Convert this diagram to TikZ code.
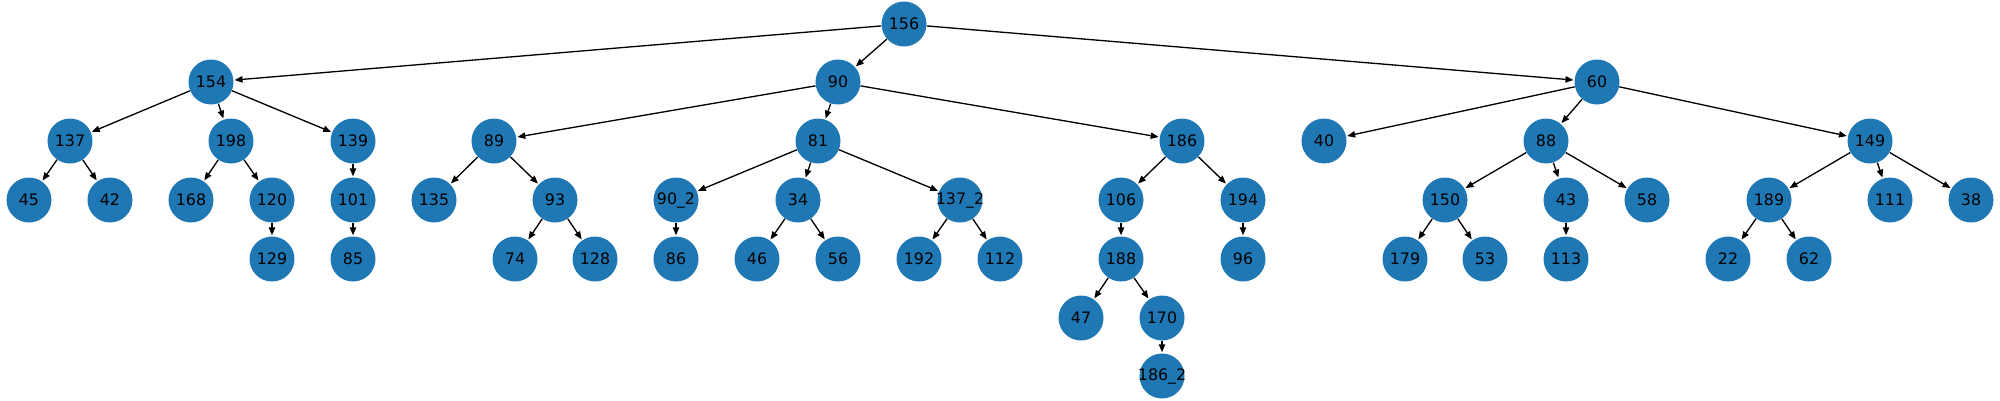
\documentclass[tikz,border=0pt]{standalone}
\usepackage{fontspec}
\setmainfont{DejaVu Sans}
\usetikzlibrary{arrows.meta}
\definecolor{nodeblue}{HTML}{1F77B4}
\tikzset{
	treenode/.style={circle, fill=nodeblue, minimum size=0.9cm, inner sep=0pt, font=\fontsize{9}{11}\selectfont},
	treeedge/.style={line width=0.75pt, -{Triangle[length=4.5pt, width=3.6pt]}, shorten >=0.5pt}
}

\begin{document}
\begin{tikzpicture}[x=0.02cm, y=-0.02cm]
		%%%%% START %%%%%
		\useasboundingbox (0, 0) rectangle (2000, 400);
		
		% level 0 and 1
		\node[treenode] (n156) at (904, 24) {156};
		\node[treenode] (n154) at (211, 82) {154};
		\node[treenode] (n90) at (838, 82) {90};
		\node[treenode] (n60) at (1597, 82) {60};
		
		% level 2
		\node[treenode] (n137) at (70, 141) {137};
		\node[treenode] (n198) at (231, 141) {198};
		\node[treenode] (n139) at (353, 141) {139};
		\node[treenode] (n89) at (494, 141) {89};
		\node[treenode] (n81) at (818, 141) {81};
		\node[treenode] (n186) at (1182, 141) {186};
		\node[treenode] (n40) at (1324, 141) {40};
		\node[treenode] (n88) at (1546, 141) {88};
		\node[treenode] (n149) at (1870, 141) {149};
		
		% level 3
		\node[treenode] (n45) at (29, 200) {45};
		\node[treenode] (n42) at (110, 200) {42};
		\node[treenode] (n168) at (191, 200) {168};
		\node[treenode] (n120) at (272, 200) {120};
		\node[treenode] (n101) at (353, 200) {101};
		\node[treenode] (n135) at (434, 200) {135};
		\node[treenode] (n93) at (555, 200) {93};
		\node[treenode] (n90b) at (676, 200) {\makebox[0pt]{90\_2}};
		\node[treenode] (n34) at (798, 200) {34};
		\node[treenode] (n137b) at (960, 200) {\makebox[0pt]{137\_2}};
		\node[treenode] (n106) at (1121, 200) {106};
		\node[treenode] (n194) at (1243, 200) {194};
		\node[treenode] (n150) at (1445, 200) {150};
		\node[treenode] (n43) at (1566, 200) {43};
		\node[treenode] (n58) at (1647, 200) {58};
		\node[treenode] (n189) at (1769, 200) {189};
		\node[treenode] (n111) at (1890, 200) {111};
		\node[treenode] (n38) at (1971, 200) {38};
		
		% level 4
		\node[treenode] (n129) at (272, 259) {129};
		\node[treenode] (n85) at (353, 259) {85};
		\node[treenode] (n74) at (515, 259) {74};
		\node[treenode] (n128) at (595, 259) {128};
		\node[treenode] (n86) at (676, 259) {86};
		\node[treenode] (n46) at (757, 259) {46};
		\node[treenode] (n56) at (838, 259) {56};
		\node[treenode] (n192) at (919, 259) {192};
		\node[treenode] (n112) at (1000, 259) {112};
		\node[treenode] (n188) at (1121, 259) {188};
		\node[treenode] (n96) at (1243, 259) {96};
		\node[treenode] (n179) at (1405, 259) {179};
		\node[treenode] (n53) at (1485, 259) {53};
		\node[treenode] (n113) at (1566, 259) {113};
		\node[treenode] (n22) at (1728, 259) {22};
		\node[treenode] (n62) at (1809, 259) {62};
		
		% level 5 and 6
		\node[treenode] (n47) at (1081, 318) {47};
		\node[treenode] (n170) at (1162, 318) {170};
		\node[treenode] (n186b) at (1162, 376) {\makebox[0pt]{186\_2}};
		
		% edges
		\foreach \from/\to in {156/154, 156/90, 156/60, 154/137, 154/198, 154/139,
			90/89, 90/81, 90/186, 60/40, 60/88, 60/149, 137/45, 137/42, 198/168, 198/120,
			139/101, 89/135, 89/93, 81/90b, 81/34, 81/137b, 186/106, 186/194,
			88/150, 88/43, 88/58, 149/189, 149/111, 149/38, 120/129, 101/85, 93/74, 93/128,
			90b/86, 34/46, 34/56, 137b/192, 137b/112, 106/188, 194/96, 150/179, 150/53,
			43/113, 189/22, 189/62, 188/47, 188/170, 170/186b}
			\draw[treeedge] (n\from) -- (n\to);
		%%%%% END %%%%%
\end{tikzpicture}
\end{document}
